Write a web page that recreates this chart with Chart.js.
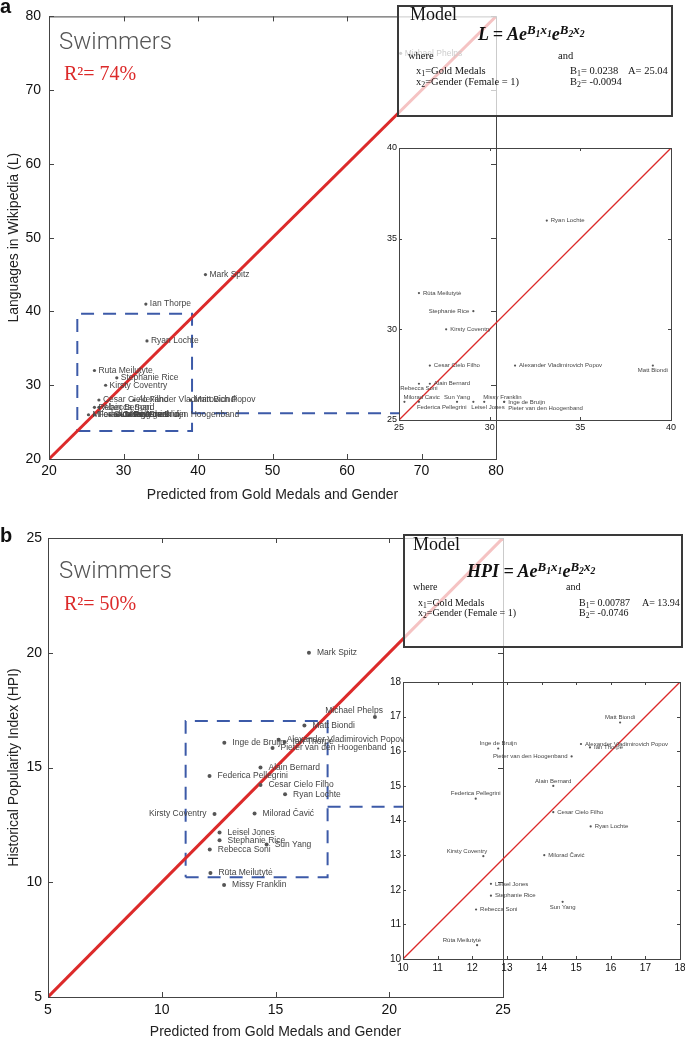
<!DOCTYPE html>
<html>
<head>
<meta charset="utf-8">
<script src="https://cdn.jsdelivr.net/npm/chart.js@4.4.0/dist/chart.umd.min.js"></script>
<style>
  body { margin: 0; background: #fff; }
  #page { position: relative; width: 685px; height: 1039px; overflow: hidden; }
  canvas { position: absolute; }
  .box { position: absolute; box-sizing: border-box; border: 2px solid #3a3a3a;
         background: rgba(255,255,255,0.72); font-family: "Liberation Serif", serif; color: #111; }
  .box span { position: absolute; white-space: nowrap; line-height: 1; }
  .box .ttl { font-size: 18px; }
  .box .f { font-size: 18px; font-style: italic; font-weight: bold; }
  .box .t { font-size: 10.5px; }
  .box .s { font-size: 10px; }
  .box sup { font-size: 0.72em; vertical-align: baseline; position: relative; top: -0.45em; }
  .box sub { font-size: 0.75em; vertical-align: baseline; position: relative; top: 0.25em; }
</style>
</head>
<body>
<div id="page">
  <canvas id="mainA" width="685" height="520" style="left:0;top:0"></canvas>
  <canvas id="insetA" width="320" height="310" style="left:365px;top:130px"></canvas>
  <canvas id="mainB" width="685" height="519" style="left:0;top:520px"></canvas>
  <canvas id="insetB" width="330" height="320" style="left:370px;top:665px"></canvas>

  <div class="box" style="left:397px;top:5px;width:276px;height:112px">
    <span class="ttl" style="left:11px;top:-2px">Model</span>
    <span class="f" style="left:79px;top:18px"><i>L</i> = <i>Ae</i><sup><i>B</i><sub>1</sub><i>x</i><sub>1</sub></sup><i>e</i><sup><i>B</i><sub>2</sub><i>x</i><sub>2</sub></sup></span>
    <span class="t" style="left:9px;top:44px">where</span>
    <span class="t" style="left:159px;top:44px">and</span>
    <span class="t" style="left:17px;top:59px">x<sub>1</sub>=Gold Medals</span>
    <span class="t" style="left:17px;top:70px">x<sub>2</sub>=Gender (Female = 1)</span>
    <span class="t" style="left:171px;top:59px">B<sub>1</sub>= 0.0238</span>
    <span class="t" style="left:229px;top:59px">A= 25.04</span>
    <span class="t" style="left:171px;top:70px">B<sub>2</sub>= -0.0094</span>
  </div>

  <div class="box" style="left:403px;top:534px;width:280px;height:114px">
    <span class="ttl" style="left:8px;top:-1px">Model</span>
    <span class="f" style="left:62px;top:26px"><i>HPI</i> = <i>Ae</i><sup><i>B</i><sub>1</sub><i>x</i><sub>1</sub></sup><i>e</i><sup><i>B</i><sub>2</sub><i>x</i><sub>2</sub></sup></span>
    <span class="s" style="left:8px;top:46px">where</span>
    <span class="s" style="left:161px;top:46px">and</span>
    <span class="s" style="left:13px;top:62px">x<sub>1</sub>=Gold Medals</span>
    <span class="s" style="left:13px;top:72px">x<sub>2</sub>=Gender (Female = 1)</span>
    <span class="s" style="left:174px;top:62px">B<sub>1</sub>= 0.00787</span>
    <span class="s" style="left:237px;top:62px">A= 13.94</span>
    <span class="s" style="left:174px;top:72px">B<sub>2</sub>= -0.0746</span>
  </div>
</div>

<script>
// ---- panel a : languages in Wikipedia ----
const namesA = ['Michael Phelps', 'Mark Spitz', 'Ian Thorpe', 'Ryan Lochte', 'Ruta Meilutyte',
  'Stephanie Rice', 'Kirsty Coventry', 'Cesar Cielo Filho', 'Alexander Vladimirovich Popov',
  'Matt Biondi', 'Alain Bernard', 'Rebecca Soni', 'Milorad Cavic', 'Federica Pellegrini',
  'Sun Yang', 'Leisel Jones', 'Missy Franklin', 'Inge de Bruijn', 'Pieter van den Hoogenband'];
const namesAInset = namesA.map(n => n === 'Ruta Meilutyte' ? 'Rūta Meilutytė' : n);
const predA = [67.2, 41.0, 33.0, 33.15, 26.1, 29.1, 27.6, 26.7, 31.4, 39.0, 26.7, 26.1, 25.3, 26.1, 28.2, 29.1, 29.7, 30.8, 30.8];
const langA = [75, 45, 41, 36, 32, 31, 30, 28, 28, 28, 27, 27, 26, 26, 26, 26, 26, 26, 26];
const rangeA = [20, 80];
const rangeAInset = [25, 40];
const zoomBoxA = [23.8, 39.2, 23.8, 39.7];   // x0, x1, y0, y1
const linkA = [39.2, 67.1, 26.2];           // x from, x to, y

// ---- panel b : historical popularity index ----
const namesB = ['Mark Spitz', 'Michael Phelps', 'Matt Biondi', 'Alexander Vladimirovich Popov',
  'Ian Thorpe', 'Inge de Bruijn', 'Pieter van den Hoogenband', 'Alain Bernard', 'Federica Pellegrini',
  'Cesar Cielo Filho', 'Ryan Lochte', 'Kirsty Coventry', 'Milorad Čavić', 'Leisel Jones',
  'Stephanie Rice', 'Sun Yang', 'Rebecca Soni', 'Rūta Meilutytė', 'Missy Franklin'];
const predB = [16.47, 19.37, 16.27, 15.14, 15.40, 12.75, 14.87, 14.34, 12.10, 14.34, 15.42, 12.32, 14.08, 12.54, 12.54, 14.61, 12.11, 12.14, 12.74];
const hpiB = [20.0, 17.2, 16.83, 16.21, 16.11, 16.08, 15.85, 15.0, 14.63, 14.24, 13.83, 12.97, 13.0, 12.17, 11.83, 11.65, 11.43, 10.4, 9.88];
const rangeB = [5, 25];
const rangeBInset = [10, 18];
const zoomBoxB = [11.05, 17.29, 10.22, 17.03];
const linkB = [17.29, 20.6, 13.29];

// where each name sits relative to its dot
const placeA = namesA.map(() => 'r');
const placeAInset = ['r', 'r', 'r', 'r', 'r', 'l', 'r', 'r', 'r', 'b', 'r', 'b', 'tr', 'br', 't', 'br', 'tr', 'r', 'rb'];
const placeB = ['r', 'tl', 'r', 'r', 'r', 'r', 'r', 'r', 'r', 'r', 'r', 'l', 'r', 'r', 'r', 'r', 'r', 'r', 'r'];
const placeBInset = ['r', 'r', 't', 'r', 'r', 't', 'l', 't', 't', 'r', 'r', 'tl', 'r', 'r', 'r', 'b', 'r', 'tl', 'r'];

const SANS = '"Liberation Sans", Arial, Helvetica, sans-serif';
const RED = '#dc2a2a';
const BLUE = '#3c5aa8';
Chart.defaults.color = '#111';
Chart.defaults.font.family = SANS;

// box round the plot, ticks pointing inwards, and free text
const frame = {
  id: 'frame',
  afterDraw(chart, args, opts) {
    const { ctx, chartArea: a, scales: { x, y } } = chart;
    ctx.save();
    ctx.strokeStyle = opts.color;
    ctx.lineWidth = 1;
    ctx.strokeRect(a.left + 0.5, a.top + 0.5, a.right - a.left, a.bottom - a.top);
    const t = opts.tick;
    ctx.beginPath();
    x.ticks.forEach(tk => {
      const p = Math.round(x.getPixelForValue(tk.value)) + 0.5;
      ctx.moveTo(p, a.bottom); ctx.lineTo(p, a.bottom - t);
      ctx.moveTo(p, a.top); ctx.lineTo(p, a.top + t);
    });
    y.ticks.forEach(tk => {
      const p = Math.round(y.getPixelForValue(tk.value)) + 0.5;
      ctx.moveTo(a.left, p); ctx.lineTo(a.left + t, p);
      ctx.moveTo(a.right, p); ctx.lineTo(a.right - t, p);
    });
    ctx.stroke();
    (opts.texts || []).forEach(s => {
      ctx.font = s.font;
      ctx.fillStyle = s.color;
      ctx.textAlign = 'left';
      ctx.textBaseline = 'alphabetic';
      ctx.fillText(s.text, s.x, s.y);
    });
    ctx.restore();
  }
};

const pointLabels = {
  id: 'pointLabels',
  afterDatasetsDraw(chart, args, opts) {
    const { ctx, scales: { x, y } } = chart;
    const g = opts.gap, fs = opts.size;
    chart.data.datasets.forEach((ds, i) => {
      if (!ds.names) return;
      const meta = chart.getDatasetMeta(i);
      ctx.save();
      ctx.font = fs + 'px ' + SANS;
      ctx.fillStyle = opts.color;
      meta.data.forEach((pt, j) => {
        const v = ds.data[j];
        if (v.x < x.min || v.x > x.max || v.y < y.min || v.y > y.max) return;
        const px = pt.x, py = pt.y;
        let tx = px + g, ty = py, al = 'left', bl = 'middle';
        switch (ds.place[j]) {
          case 'l': tx = px - g; al = 'right'; break;
          case 't': tx = px; ty = py - 2; al = 'center'; bl = 'bottom'; break;
          case 'b': tx = px; ty = py + 2; al = 'center'; bl = 'top'; break;
          case 'tl': tx = px + g; ty = py - 2; al = 'right'; bl = 'bottom'; break;
          case 'tr': tx = px - 1; ty = py - 2; al = 'left'; bl = 'bottom'; break;
          case 'br': tx = px - 2; ty = py + 2; al = 'left'; bl = 'top'; break;
          case 'rb': tx = px + g; ty = py + fs; break;
        }
        ctx.textAlign = al;
        ctx.textBaseline = bl;
        ctx.fillText(ds.names[j], tx, ty);
      });
      ctx.restore();
    });
  }
};

function pairs(xs, ys) { return xs.map((v, i) => ({ x: v, y: ys[i] })); }
function boxPath(b) {
  return [{ x: b[0], y: b[2] }, { x: b[1], y: b[2] }, { x: b[1], y: b[3] }, { x: b[0], y: b[3] }, { x: b[0], y: b[2] }];
}

function makeChart(id, o) {
  const datasets = [
    { data: pairs(o.xs, o.ys), names: o.names, place: o.place, pointRadius: o.dot,
      backgroundColor: '#555', borderWidth: 0, clip: 0 },
    { data: [{ x: o.range[0], y: o.range[0] }, { x: o.range[1], y: o.range[1] }], showLine: true,
      pointRadius: 0, borderColor: RED, borderWidth: o.lineW, clip: 0 }
  ];
  if (o.zoomBox) {
    datasets.push({ data: boxPath(o.zoomBox), showLine: true, pointRadius: 0, borderColor: BLUE,
      borderWidth: 2, borderDash: [13, 9], clip: 0 });
    datasets.push({ data: [{ x: o.link[0], y: o.link[2] }, { x: o.link[1], y: o.link[2] }], showLine: true,
      pointRadius: 0, borderColor: BLUE, borderWidth: 2, borderDash: [13, 9], clip: 0 });
  }
  return new Chart(document.getElementById(id), {
    type: 'scatter',
    data: { datasets },
    plugins: [frame, pointLabels],
    options: {
      responsive: false,
      animation: false,
      layout: { autoPadding: false, padding: o.pad },
      scales: {
        x: {
          type: 'linear', min: o.range[0], max: o.range[1],
          grid: { display: false, drawTicks: false }, border: { display: false },
          ticks: { stepSize: o.step, font: { size: o.tickSize }, padding: o.xPad, maxRotation: 0 },
          title: { display: !!o.xTitle, text: o.xTitle, font: { size: 14, lineHeight: 1 },
            padding: { top: 0, bottom: o.xTitlePad }, color: '#222' },
          afterFit: s => { s.height = o.xH; }
        },
        y: {
          type: 'linear', min: o.range[0], max: o.range[1],
          grid: { display: false, drawTicks: false }, border: { display: false },
          ticks: { stepSize: o.step, font: { size: o.tickSize }, padding: o.yPad },
          title: { display: !!o.yTitle, text: o.yTitle, font: { size: 14, lineHeight: 1 },
            padding: { top: 7, bottom: 0 }, color: '#222' },
          afterFit: s => { s.width = o.yW; }
        }
      },
      plugins: {
        legend: { display: false },
        tooltip: { enabled: false },
        frame: { color: '#444', tick: o.tick, texts: o.texts },
        pointLabels: { gap: o.gap, size: o.labelSize, color: '#444' }
      }
    }
  });
}

makeChart('mainA', {
  xs: predA, ys: langA, names: namesA, place: placeA, range: rangeA, step: 10,
  zoomBox: zoomBoxA, link: linkA, dot: 1.6, lineW: 3, tick: 5, gap: 4, labelSize: 8.5,
  tickSize: 14, xPad: 4, yPad: 8, xH: 61, yW: 49, xTitlePad: 18,
  pad: { left: 0, top: 12, right: 189, bottom: 0 },
  xTitle: 'Predicted from Gold Medals and Gender', yTitle: 'Languages in Wikipedia (L)',
  texts: [
    { text: 'a', x: 0, y: 12.5, font: 'bold 20px ' + SANS, color: '#111' },
    { text: 'Swimmers', x: 59, y: 49, font: '300 24px Roboto, ' + SANS, color: '#555' },
    { text: 'R²= 74%', x: 64, y: 80, font: '20px "Liberation Serif", serif', color: RED }
  ]
});

makeChart('insetA', {
  xs: predA, ys: langA, names: namesAInset, place: placeAInset, range: rangeAInset, step: 5,
  dot: 1.1, lineW: 1.3, tick: 3, gap: 4, labelSize: 6,
  tickSize: 9, xPad: 2, yPad: 2, xH: 20, yW: 34,
  pad: { left: 0, top: 18, right: 14, bottom: 0 }
});

makeChart('mainB', {
  xs: predB, ys: hpiB, names: namesB, place: placeB, range: rangeB, step: 5,
  zoomBox: zoomBoxB, link: linkB, dot: 2, lineW: 3, tick: 5, gap: 8, labelSize: 8.5,
  tickSize: 14, xPad: 5, yPad: 6, xH: 42, yW: 48, xTitlePad: 0,
  pad: { left: 0, top: 18, right: 182, bottom: 0 },
  xTitle: 'Predicted from Gold Medals and Gender', yTitle: 'Historical Popularity Index (HPI)',
  texts: [
    { text: 'b', x: 0, y: 22, font: 'bold 20px ' + SANS, color: '#111' },
    { text: 'Swimmers', x: 59, y: 58, font: '300 24px Roboto, ' + SANS, color: '#555' },
    { text: 'R²= 50%', x: 64, y: 90, font: '20px "Liberation Serif", serif', color: RED }
  ]
});

makeChart('insetB', {
  xs: predB, ys: hpiB, names: namesB, place: placeBInset, range: rangeBInset, step: 1,
  dot: 1.1, lineW: 1.3, tick: 3, gap: 4, labelSize: 6,
  tickSize: 10, xPad: 3, yPad: 2, xH: 26, yW: 33,
  pad: { left: 0, top: 17, right: 20, bottom: 0 }
});
</script>
</body>
</html>
